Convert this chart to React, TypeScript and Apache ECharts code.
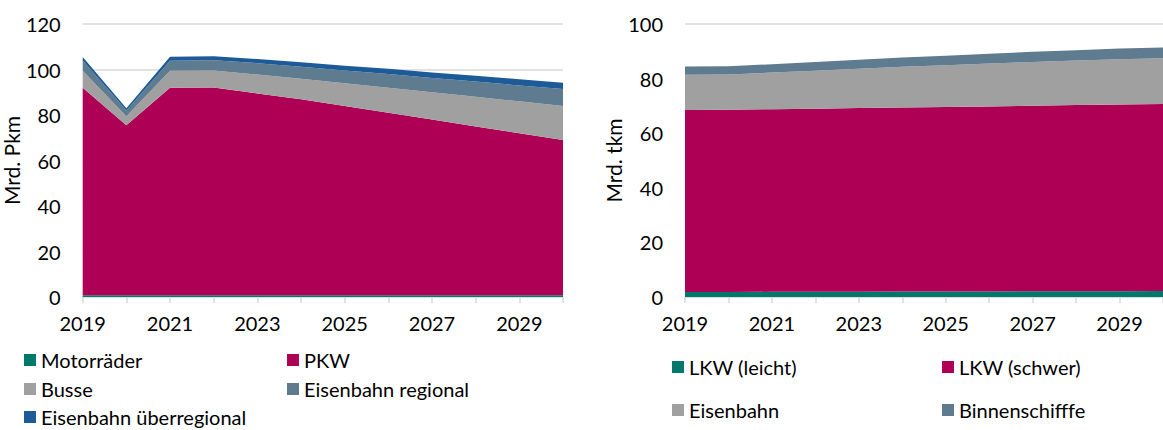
import React, { useEffect, useRef } from "react";
import * as echarts from "echarts";

const years = ["2019","2020","2021","2022","2023","2024","2025","2026","2027","2028","2029","2030"];

// Left: Personenverkehr (Mrd. Pkm)
const motorraeder = [0.8,0.8,0.8,0.8,0.8,0.8,0.8,0.8,0.8,0.8,0.8,0.8];
const pkw = [91.2,74.7,91.2,91.3,88.7,86.1,83.2,80.2,77.2,74.2,71.2,68.2];
const busse = [7.5,4.0,7.4,7.5,8.3,9.0,10.0,11.0,12.0,13.0,14.0,15.0];
const bahnRegional = [4.5,2.5,4.5,4.5,5.0,5.3,5.6,6.0,6.3,6.7,7.0,7.4];
const bahnUeberregional = [1.5,1.0,1.7,1.7,1.8,2.0,2.1,2.3,2.4,2.6,2.7,2.8];

// Right: Güterverkehr (Mrd. tkm)
const lkwLeicht = [1.8,1.8,1.9,1.9,1.9,2.0,2.0,2.0,2.1,2.1,2.1,2.2];
const lkwSchwer = [66.7,66.8,66.9,67.1,67.3,67.4,67.6,67.8,68.0,68.2,68.4,68.5];
const eisenbahn = [12.9,12.9,13.4,13.9,14.4,14.9,15.3,15.7,16.0,16.3,16.6,16.8];
const binnenschiffe = [3.0,3.0,3.1,3.2,3.3,3.4,3.5,3.6,3.7,3.8,3.9,3.9];

const C_TEAL = "#00796B";
const C_MAG = "#AE0055";
const C_GRAY = "#A0A0A0";
const C_STEEL = "#5E7B8F";
const C_BLUE = "#1C5A98";

const FONT = "Lato";
const TXT = "#000000";

export default function App() {
  const ref = useRef<HTMLDivElement>(null);
  useEffect(() => {
    if (!ref.current) return;
    const chart = echarts.init(ref.current, undefined, { renderer: "svg" });

    const mkX = (gi: number) => ({
      type: "category",
      gridIndex: gi,
      data: years,
      boundaryGap: false,
      axisLine: { lineStyle: { color: "#D9D9D9", width: 1.5 } },
      axisTick: { show: true, interval: 0, length: 6, lineStyle: { color: "#D9D9D9", width: 1.5 } },
      axisLabel: { interval: 1, color: TXT, fontSize: 20, fontFamily: FONT, margin: 16 },
      splitLine: { show: false },
    });
    const mkY = (gi: number, max: number, name: string, gap: number) => ({
      type: "value",
      gridIndex: gi,
      min: 0,
      max,
      interval: 20,
      name,
      nameLocation: "middle",
      nameGap: gap,
      nameTextStyle: { color: TXT, fontSize: 21, fontFamily: FONT },
      axisLine: { show: false },
      axisTick: { show: false },
      axisLabel: { color: TXT, fontSize: 20, fontFamily: FONT, margin: 22 },
      splitLine: { lineStyle: { color: "#D9D9D9", width: 1.5 } },
    });

    const area = (name: string, data: number[], color: string, gi: number, stack: string) => ({
      name,
      type: "line",
      xAxisIndex: gi,
      yAxisIndex: gi,
      stack,
      data,
      symbol: "none",
      lineStyle: { width: 0, color },
      itemStyle: { color },
      areaStyle: { color, opacity: 1 },
    });

    const legendItem = (name: string, left: number, cy: number) => ({
      data: [name],
      left,
      top: cy - 12,
      icon: "rect",
      itemWidth: 12,
      itemHeight: 12,
      itemGap: 0,
      padding: 0,
      textStyle: { color: TXT, fontSize: 20, fontFamily: FONT, padding: [0, 0, 0, 0] },
      selectedMode: false,
    });

    chart.setOption({
      animation: false,
      backgroundColor: "#ffffff",
      grid: [
        { left: 81, top: 24, width: 482, bottom: 133 },
        { left: 685, top: 24, width: 483, bottom: 133 },
      ],
      xAxis: [mkX(0), mkX(1)],
      yAxis: [mkY(0, 120, "Mrd. Pkm", 48), mkY(1, 100, "Mrd. tkm", 46)],
      legend: [
        legendItem("Motorräder", 24, 362),
        legendItem("PKW", 287, 362),
        legendItem("Busse", 24, 391),
        legendItem("Eisenbahn regional", 287, 391),
        legendItem("Eisenbahn überregional", 24, 419),
        legendItem("LKW (leicht)", 672, 369),
        legendItem("LKW (schwer)", 942, 369),
        legendItem("Eisenbahn", 672, 412),
        legendItem("Binnenschifffe", 942, 412),
      ],
      series: [
        area("Motorräder", motorraeder, C_TEAL, 0, "p"),
        area("PKW", pkw, C_MAG, 0, "p"),
        area("Busse", busse, C_GRAY, 0, "p"),
        area("Eisenbahn regional", bahnRegional, C_STEEL, 0, "p"),
        area("Eisenbahn überregional", bahnUeberregional, C_BLUE, 0, "p"),
        area("LKW (leicht)", lkwLeicht, C_TEAL, 1, "g"),
        area("LKW (schwer)", lkwSchwer, C_MAG, 1, "g"),
        area("Eisenbahn", eisenbahn, C_GRAY, 1, "g"),
        area("Binnenschifffe", binnenschiffe, C_STEEL, 1, "g"),
      ],
    });
    return () => chart.dispose();
  }, []);
  return (
    <div
      ref={ref}
      style={{ position: "fixed", left: 0, top: 0, width: 1163, height: 430, overflow: "hidden" }}
    />
  );
}
